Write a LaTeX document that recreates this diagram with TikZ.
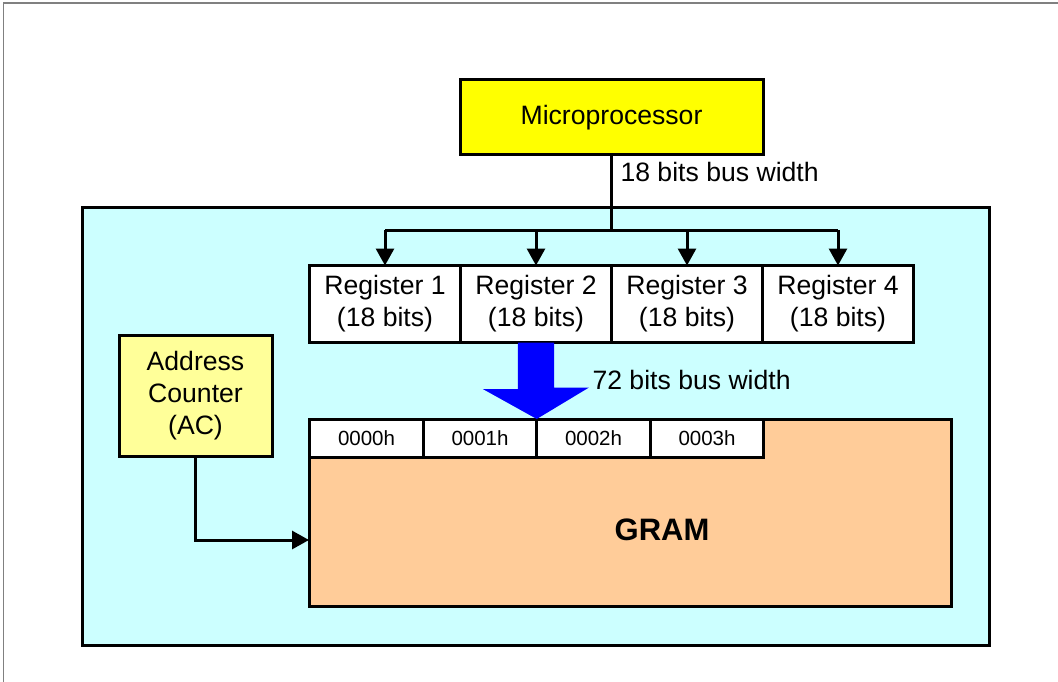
\documentclass[tikz,border=0pt]{standalone}
\usepackage{fontspec}
\setmainfont{Liberation Sans}
\usepackage{tikz}
\usetikzlibrary{arrows.meta}
\definecolor{mpuyellow}{HTML}{FFFF00}
\definecolor{acyellow}{HTML}{FFFF99}
\definecolor{chipcyan}{HTML}{CCFFFF}
\definecolor{gramorange}{HTML}{FFCC99}
\definecolor{busblue}{HTML}{0000FF}
\newcommand{\bigtext}{\fontsize{26.6}{32}\selectfont}
\newcommand{\celltext}{\fontsize{20.5}{24}\selectfont}

\begin{document}
\begin{tikzpicture}[x=1pt, y=-1pt,
    block/.style={draw, line width=3pt, align=center, inner sep=0pt, outer sep=0pt, font=\bigtext},
    cellbox/.style={draw, fill=white, line width=3pt, inner sep=0pt, outer sep=0pt, minimum width=113.5pt, minimum height=38pt, font=\celltext},
    busline/.style={line width=3pt},
    busarrow/.style={line width=3pt, -{Triangle[length=17pt, width=18pt]}}]
      \useasboundingbox (0,0) rectangle (1058,682);
      \draw[gray, line width=1.5pt] (3.5,682) -- (3.5,3) -- (1058,3);

      \node[block, fill=chipcyan, minimum width=907pt, minimum height=438pt] (chip) at (536,426) {};
      \node[block, fill=mpuyellow, minimum width=303pt, minimum height=75pt] (mpu) at (611.5,117.5) {Microprocessor};
      \node[anchor=west, font=\bigtext] (buslabel) at (617,172) {18 bits bus width};

      \node[block, fill=white, minimum width=151pt, minimum height=77pt] (reg1) at (385,304) {Register 1\\(18 bits)};
      \node[block, fill=white, minimum width=151pt, minimum height=77pt] (reg2) at (536,304) {Register 2\\(18 bits)};
      \node[block, fill=white, minimum width=151pt, minimum height=77pt] (reg3) at (687,304) {Register 3\\(18 bits)};
      \node[block, fill=white, minimum width=151pt, minimum height=77pt] (reg4) at (838,304) {Register 4\\(18 bits)};

      \coordinate (bus) at (mpu.south |- 0,230);
      \draw[busline] (mpu.south) -- (bus);
      \draw[busline] (reg1.north |- bus) -- (reg4.north |- bus);
      \draw[busarrow] (reg1.north |- bus) -- (reg1.north);
      \draw[busarrow] (reg2.north |- bus) -- (reg2.north);
      \draw[busarrow] (reg3.north |- bus) -- (reg3.north);
      \draw[busarrow] (reg4.north |- bus) -- (reg4.north);

      \node[block, fill=acyellow, minimum width=153pt, minimum height=121pt] (ac) at (195.5,396) {Address\\Counter\\(AC)};

      \node[block, fill=gramorange, minimum width=642pt, minimum height=187pt] (gram) at (630,512.5) {};
      \node[font=\fontsize{31}{36}\selectfont\bfseries] (gramlabel) at (662,530) {GRAM};
      \node[cellbox] (cell0) at (366.5,438) {0000h};
      \node[cellbox] (cell1) at (480,438) {0001h};
      \node[cellbox] (cell2) at (593.5,438) {0002h};
      \node[cellbox] (cell3) at (707,438) {0003h};

      \fill[busblue] (reg2.south) ++(-18,0) -- ++(36,0) -- ++(0,45) -- ++(35,0) -- (cell2.north west) -- ++(-54,-30) -- ++(35,0) -- cycle;
      \node[anchor=west, font=\bigtext] (widelabel) at (589,380) {72 bits bus width};

      \draw[busarrow] (ac.south) |- ([yshift=-27.5pt]gram.west);
    \end{tikzpicture}
\end{document}
